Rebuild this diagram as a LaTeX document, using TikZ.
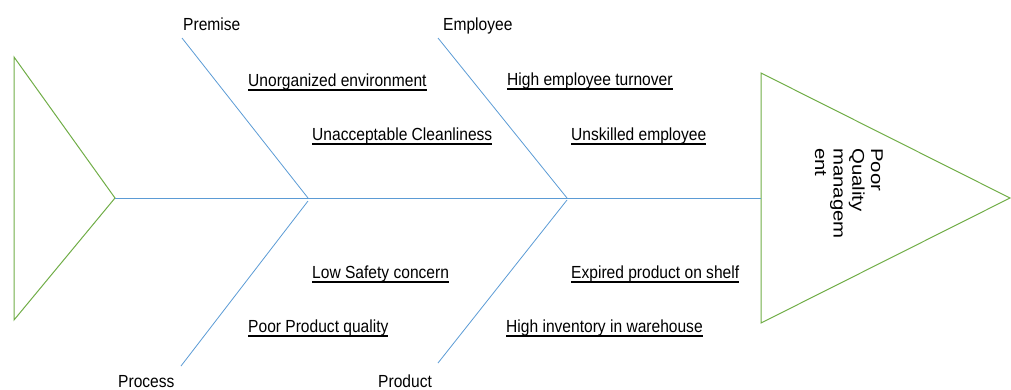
\documentclass[tikz,border=0pt]{standalone}
\usepackage{fontspec}
\setmainfont{Liberation Sans}[FakeStretch=0.89]
\newfontfamily\headfont{Liberation Sans}[FakeStretch=1.2]
\definecolor{bonecol}{RGB}{91,155,213}
\definecolor{fincol}{RGB}{112,173,71}
% underlined cause text
\newcommand{\ulcause}[1]{\setbox0=\hbox{#1}\rlap{\vrule width\wd0 height -3.2pt depth 4.6pt}\box0}
\begin{document}
\begin{tikzpicture}[x=1pt,y=-1pt,
  bone/.style={bonecol,line width=0.8pt},
  fin/.style={fincol,line width=1pt},
  cat/.style={anchor=base west,inner sep=0pt,font=\fontsize{17.5}{20}\selectfont}]
\useasboundingbox (0,0) rectangle (1011,389);
% tail and head of the fish
\coordinate (tail) at (115,198);
\coordinate (head) at (761,198);
\draw[fin] (14,57) -- (tail) -- (14,320) -- cycle;
\draw[fin] (761,73) -- (1010,198) -- (761,323) -- cycle;
\node[anchor=north west,inner sep=0pt,rotate=-90,align=left,
  font=\headfont\fontsize{17}{18.7}\selectfont] (effect) at (883,148)
  {Poor\\Quality\\managem\\ent};
% spine and bones
\coordinate (j1) at (308,198);
\coordinate (j2) at (567,198);
\coordinate (p1) at (182,38);
\coordinate (p2) at (438,38);
\coordinate (q1) at (181,366);
\coordinate (q2) at (438,363);
\draw[bone] (tail) -- (head);
\draw[bone] (p1) -- (j1);
\draw[bone] (p2) -- (j2);
\draw[bone] ([yshift=-3pt]j1) -- (q1);
\draw[bone] ([yshift=-2pt]j2) -- (q2);
% categories
\node[cat] (premise) at (183,30) {Premise};
\node[cat] (employee) at (443,30) {Employee};
\node[cat] (process) at (118,387) {Process};
\node[cat] (product) at (378,387) {Product};
% causes
\node[cat] (c1) at (248,86) {\ulcause{Unorganized environment}};
\node[cat] (c2) at (312,140) {\ulcause{Unacceptable Cleanliness}};
\node[cat] (c3) at (507,85) {\ulcause{High employee turnover}};
\node[cat] (c4) at (571,140) {\ulcause{Unskilled employee}};
\node[cat] (c5) at (312,278) {\ulcause{Low Safety concern}};
\node[cat] (c6) at (571,278) {\ulcause{Expired product on shelf}};
\node[cat] (c7) at (248,332) {\ulcause{Poor Product quality}};
\node[cat] (c8) at (506,332) {\ulcause{High inventory in warehouse}};
\end{tikzpicture}
\end{document}
